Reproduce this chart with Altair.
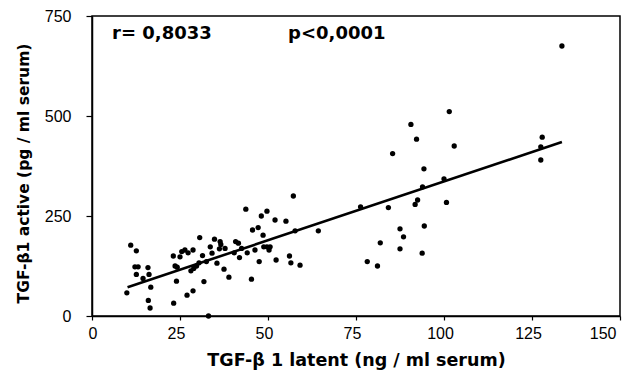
import altair as alt
import pandas as pd

# TGF-beta1 latent (ng/ml serum) vs TGF-beta1 active (pg/ml serum)
latent = [9.9, 11.0, 12.6, 12.2, 13.1, 12.6, 14.5, 15.9, 16.2, 16.7, 16.0, 16.5,
          23.2, 23.1, 23.6, 24.2, 24.0, 25.0, 25.5, 26.4, 27.3, 28.7, 30.6, 27.0,
          28.7, 28.1, 28.9, 29.7, 30.4, 31.8, 31.4, 32.5, 33.1, 33.6, 34.1, 34.8,
          35.5, 36.4, 36.6, 36.2, 37.8, 37.5, 38.9, 40.4, 40.8, 41.6, 41.9, 42.5,
          43.7, 44.1, 45.3, 45.6, 46.3, 47.2, 47.5, 48.1, 48.6, 49.7, 48.8, 49.7,
          50.3, 50.6, 52.0, 52.3, 55.1, 56.1, 56.5, 57.2, 57.7, 59.1, 64.3, 76.3,
          78.2, 81.1, 81.9, 84.2, 87.5, 88.5, 87.5, 91.8, 92.5, 93.8, 93.9, 94.4,
          100.7, 101.5, 90.6, 92.2, 102.9, 85.4, 94.3, 100.0, 133.5, 127.9, 127.5, 127.5]
active = [58, 177, 163, 123, 123, 104, 94, 121, 104, 72, 39, 20,
          32, 150, 125, 122, 87, 148, 161, 165, 158, 165, 196, 52,
          63, 113, 119, 125, 133, 86, 151, 136, 0, 173, 157, 192,
          132, 186, 179, 168, 169, 117, 97, 158, 186, 182, 146, 169,
          267, 158, 92, 215, 165, 221, 136, 250, 202, 262, 173, 173,
          165, 173, 240, 140, 237, 150, 133, 300, 213, 127, 213, 273,
          136, 125, 183, 271, 218, 198, 168, 279, 290, 157, 323, 225,
          284, 511, 479, 442, 425, 406, 368, 343, 675, 447, 423, 390]

# regression line end points
fit_x = [10.1, 133.5]
fit_y = [72, 435]

# annotations
notes = ["r= 0,8033", "p<0,0001"]
note_x = [5.7, 55.7]
note_y = [705, 705]

x_ticks = [0, 25, 50, 75, 100, 125, 150]
y_ticks = [0, 250, 500, 750]

FONT = "Liberation Sans"
BOLD = "DejaVu Sans"

pts = pd.DataFrame({"latent": latent, "active": active})
fit = pd.DataFrame({"latent": fit_x, "active": fit_y})
ann = pd.DataFrame({"latent": note_x, "active": note_y, "label": notes})

x_scale = alt.Scale(domain=[0, 150], nice=False, zero=False)
y_scale = alt.Scale(domain=[0, 750], nice=False)

x_axis = alt.Axis(values=x_ticks, title="TGF-β 1 latent (ng / ml serum)",
                  tickSize=4, labelPadding=5, labelOffset=-4, titlePadding=10,
                  titleFontSize=17.5)
y_axis = alt.Axis(values=y_ticks, title="TGF-β1 active (pg / ml serum)",
                  tickSize=6, labelPadding=15, titlePadding=13,
                  titleFontSize=15.5, titleY=157)

points = alt.Chart(pts).mark_circle(size=28, color="black", opacity=1).encode(
    x=alt.X("latent:Q", scale=x_scale, axis=x_axis),
    y=alt.Y("active:Q", scale=y_scale, axis=y_axis),
)

line = alt.Chart(fit).mark_line(color="black", strokeWidth=2.6).encode(
    x=alt.X("latent:Q", scale=x_scale),
    y=alt.Y("active:Q", scale=y_scale),
)

text = alt.Chart(ann).mark_text(
    align="left", baseline="middle", fontSize=18, fontWeight="bold", font=BOLD, color="black"
).encode(
    x=alt.X("latent:Q", scale=x_scale),
    y=alt.Y("active:Q", scale=y_scale),
    text="label:N",
)

chart = alt.layer(points, line, text).properties(
    width=528,
    height=300,
    autosize=alt.AutoSizeParams(type="none"),
    padding={"left": 92, "top": 16, "right": 9, "bottom": 58},
    background="white",
).configure_view(
    stroke="black", strokeWidth=1.5
).configure_axis(
    grid=False,
    domainColor="black",
    domainWidth=1.5,
    tickColor="black",
    tickWidth=1.2,
    labelFont=FONT,
    labelFontSize=16,
    labelColor="black",
    titleFont=BOLD,
    titleFontWeight="bold",
    titleColor="black",
)

chart.save("out.html", embed_options={"renderer": "svg", "actions": False})
